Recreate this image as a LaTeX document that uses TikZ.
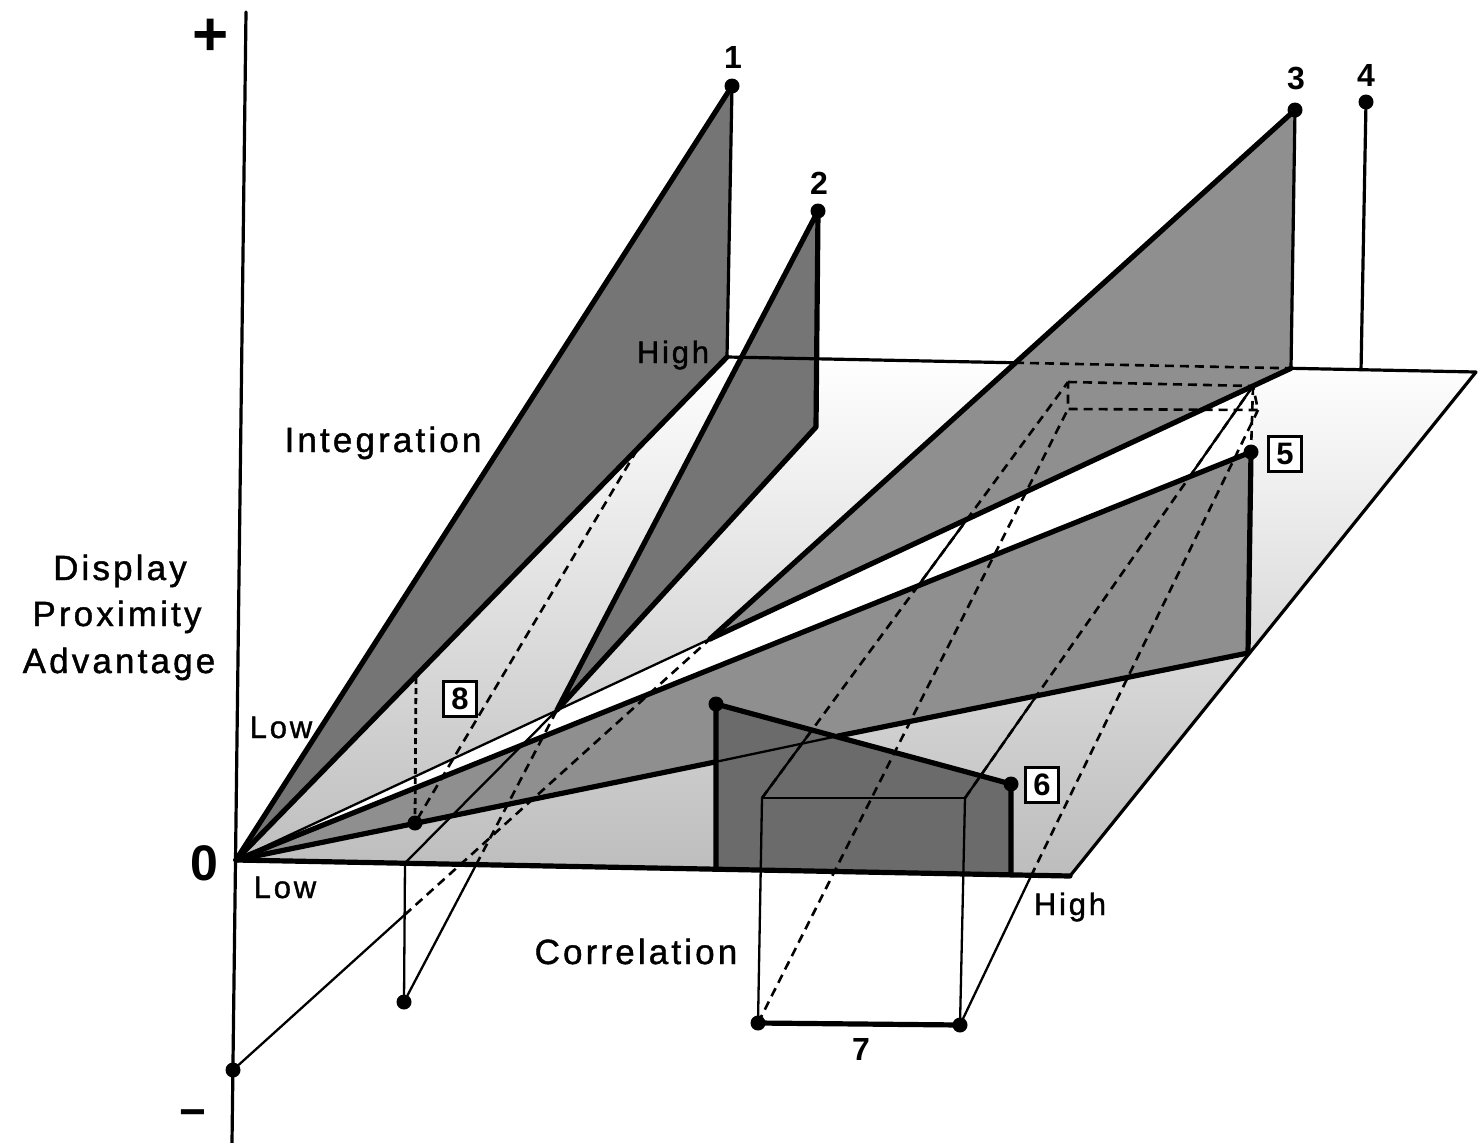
\documentclass[tikz,border=0pt]{standalone}
\usepackage{fontspec}
\setmainfont{Liberation Sans}
\newfontfamily\lblfont[LetterSpace=9,FakeBold=1.2]{Liberation Sans}
\usetikzlibrary{calc}
\begin{document}
\begin{tikzpicture}[x=1pt,y=-1pt,
  thickln/.style={line width=5.2pt, line join=round, line cap=round},
  medln/.style={line width=3.2pt, line cap=round},
  thinln/.style={line width=2.3pt},
  hidden/.style={line width=2.6pt, dash pattern=on 9pt off 6pt},
  hiddenshort/.style={line width=2.8pt, dash pattern=on 6pt off 4pt},
  darkA/.style={fill=black!54},
  darkB/.style={fill=black!44},
  darkC/.style={fill=black!58},
  dot/.style={circle, fill=black, inner sep=0pt, minimum size=15pt},
  boxlbl/.style={draw, line width=2.6pt, inner sep=0pt, minimum width=33pt, minimum height=35pt, font=\fontsize{31}{33}\selectfont\bfseries, fill=white},
  numlbl/.style={font=\fontsize{32}{34}\selectfont\bfseries},
  txt/.style={font=\lblfont\fontsize{35}{40}\selectfont, inner sep=0pt},
  txts/.style={font=\lblfont\fontsize{31}{36}\selectfont, inner sep=0pt},
]
\useasboundingbox (0,0) rectangle (1483,1143);
\fill[white] (0,0) rectangle (1483,1143);

% ---- key points (pixel coordinates) ----
\coordinate (O) at (236,860);
\coordinate (A) at (1070,876);
\coordinate (B) at (1476,372);
\coordinate (C) at (727,357);
\coordinate (AxTop) at (246,12);
\coordinate (AxBot) at (232,1143);
\coordinate (P1) at (732,86);
\coordinate (P2) at (818,211);
\coordinate (R2) at (816,427);
\coordinate (T2) at (557,710);
\coordinate (P3) at (1295,110);
\coordinate (B3) at ($(C)!0.753!(B)$);
\coordinate (X3) at ($(C)!0.3845!(B)$);
\coordinate (T3) at (710,639);
\coordinate (P4) at (1366,102);
\coordinate (B4) at ($(C)!0.8465!(B)$);
\coordinate (P5) at (1251,452);
\coordinate (Q5) at (1248,653);
\coordinate (Q5a) at (715,762);
\coordinate (Q5b) at (838,736);
\coordinate (S6a) at (716,869);
\coordinate (S6b) at (716,704);
\coordinate (P6) at (1011,784);
\coordinate (S6c) at (1011,875);
\coordinate (F1) at (762,798);
\coordinate (F2) at (965,798);
\coordinate (F1t) at (812,730);
\coordinate (F2t) at (980.6,775.7);
\coordinate (G1) at (758,1023);
\coordinate (G2) at (960,1025);
\coordinate (TL) at (1068,382);
\coordinate (TR) at (1253,386);
\coordinate (BR) at (1258,410);
\coordinate (BL) at (1068,409);
\coordinate (H4) at (1031,876);
\coordinate (E8) at (405,863);
\coordinate (D8) at (404,1002);
\coordinate (K8) at (476,865);
\coordinate (D0) at (233,1070);
\coordinate (M0) at (404.5,915);
\coordinate (V8a) at (416,678);
\coordinate (V8) at (415,823);
\coordinate (U8) at (637,450);

% ---- floor ----
\shade[top color=white, bottom color=black!26] (O) -- (A) -- (B) -- (C) -- cycle;
\fill[white] (O) -- (TR) -- (P5) -- cycle;

% lines that show solid where nothing covers them
\draw[thinln] (F1) -- (TL);
\draw[thinln] (F2) -- (TR);

% ---- shaded planes ----
\fill[darkA] (O) -- (P1) -- (C) -- cycle;
\fill[darkA] (T2) -- (P2) -- (R2) -- cycle;
\fill[darkB] (T3) -- (P3) -- (B3) -- cycle;
\fill[darkB] (O) -- (P5) -- (Q5) -- cycle;
\draw[thickln] (O) -- (P5) -- (Q5) -- (Q5b);
\draw[thickln] (Q5a) -- (O);
\fill[darkC] (S6a) -- (S6b) -- (P6) -- (S6c) -- cycle;
\draw[thinln] (Q5a) -- (Q5b);
\draw[thinln] (F1) -- (F1t);
\draw[thinln] (F2) -- (F2t);

% ---- hidden (dashed) lines ----
\draw[hidden] (X3) -- (B3);
\draw[hidden] (F1) -- (TL);
\draw[hidden] (F2) -- (TR);
\draw[hidden] (G1) -- (BL);
\draw[hidden] (H4) -- (BR);
\draw[hidden] (TL) -- (TR) -- (BR) -- (BL) -- cycle;
\draw[hidden] (TR) -- (P5);
\draw[hiddenshort] (V8a) -- (V8);
\draw[hidden] (U8) -- (V8);
\draw[hidden] (M0) -- (T3);
\draw[hidden] (K8) -- (T2);

% ---- thin solid lines ----
\draw[medln] (AxTop) -- (AxBot);
\draw[medln] (A) -- (B);
\draw[medln] (C) -- (X3);
\draw[medln] (B3) -- (B);
\draw[thinln] (E8) -- (T2);
\draw[thinln] (O) -- (T3);
\draw[thinln] (F1) -- (F2);
\draw[thinln] (F1) -- (G1);
\draw[thinln] (F2) -- (G2);
\draw[thinln] (G2) -- (H4);
\draw[thinln] (E8) -- (D8);
\draw[thinln] (D8) -- (K8);
\draw[thinln] (D0) -- (M0);
\draw[medln] (P4) -- (B4);

% ---- thick outlines ----
\draw[thickln] (O) -- (P1);
\draw[medln] (P1) -- (C);
\draw[thickln] (C) -- (O);
\draw[thickln] (T2) -- (P2) -- (R2) -- cycle;
\draw[thickln] (T3) -- (P3);
\draw[medln] (P3) -- (B3);
\draw[thickln] (B3) -- (T3);
\draw[thickln] (S6a) -- (S6b) -- (P6) -- (S6c);
\draw[thickln] (O) -- (A);
\draw[thickln] (G1) -- (G2);

% ---- dots ----
\foreach \p in {P1,P2,P3,P4,P5,P6,S6b,V8,D8,D0,G1,G2}
  \node[dot] (d\p) at (\p) {};

% ---- labels ----
\node[numlbl] (n1) at (733,57) {1};
\node[numlbl] (n2) at (819,183) {2};
\node[numlbl] (n3) at (1296,79) {3};
\node[numlbl] (n4) at (1366,75) {4};
\node[numlbl] (n7) at (861,1049) {7};
\node[boxlbl] (b5) at (1285,454) {5};
\node[boxlbl] (b6) at (1042,785) {6};
\node[boxlbl] (b8) at (460,699) {8};

\node[font=\fontsize{62}{62}\selectfont\bfseries, anchor=base, inner sep=0pt] (plus) at (211,55) {+};
\node[font=\fontsize{46}{46}\selectfont\bfseries, anchor=south, inner sep=0pt] (minus) at (193,1128) {−};
\node[font=\fontsize{50}{50}\selectfont\bfseries, anchor=base, inner sep=0pt] (zero) at (204,880) {0};

\node[txt, anchor=base] (tDisplay) at (120,580) {Display};
\node[txt, anchor=base] (tProx) at (117,626) {Proximity};
\node[txt, anchor=base] (tAdv) at (119,673) {Advantage};
\node[txt, anchor=base] (tInteg) at (383,452) {Integration};
\node[txt, anchor=base] (tCorr) at (636,964) {Correlation};
\node[txts, anchor=base] (tLowI) at (281,738) {Low};
\node[txts, anchor=base] (tLowC) at (285,898) {Low};
\node[txts, anchor=base] (tHighC) at (1070,915) {High};
\node[txts, anchor=base] (tHighI) at (673,363) {High};
\end{tikzpicture}
\end{document}
